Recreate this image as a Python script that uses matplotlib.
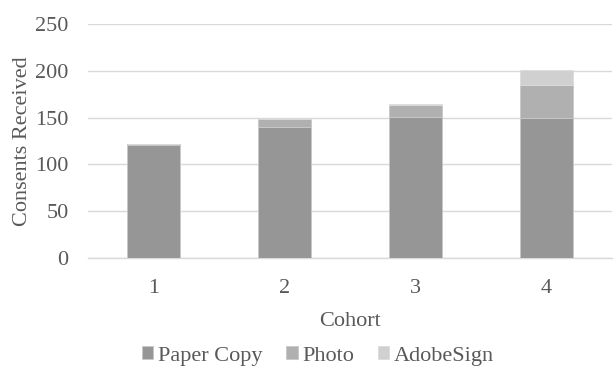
import matplotlib
matplotlib.use("Agg")
import matplotlib.pyplot as plt
import numpy as np

cohorts = ["1", "2", "3", "4"]
paper_copy = [121, 140, 151, 150]
photo = [1, 8, 12, 35]
adobe_sign = [0, 1, 1, 16]
yticks = [0, 50, 100, 150, 200, 250]

plt.rcParams['font.family'] = ['Liberation Serif', 'DejaVu Serif']
txt = '#595959'
fs = 16

fig = plt.figure(figsize=(6.14, 3.75), dpi=100)
ax = fig.add_axes([88/614, 1-258/375, 524/614, 234/375])

x = np.arange(len(cohorts))
w = 0.4
p = np.array(paper_copy, float)
ph = np.array(photo, float)
ad = np.array(adobe_sign, float)
ax.bar(x, p, w, color='#969696', edgecolor='#c8c8c8', linewidth=0.6, label='Paper Copy', zorder=3)
ax.bar(x, ph, w, bottom=p, color='#b0b0b0', edgecolor='#c8c8c8', linewidth=0.6, label='Photo', zorder=3)
ax.bar(x, ad, w, bottom=p+ph, color='#d0d0d0', edgecolor='#dcdcdc', linewidth=0.6, label='AdobeSign', zorder=3)

ax.set_xlim(-0.5, 3.5)
ax.set_ylim(0, 250)
ax.set_yticks(yticks)
ax.set_xticks(x)
ax.set_xticklabels(cohorts)
ax.grid(axis='y', color='#d9d9d9', linewidth=1, zorder=0)
for s in ['top', 'right', 'left']:
    ax.spines[s].set_visible(False)
ax.spines['bottom'].set_color('#d9d9d9')
ax.spines['bottom'].set_linewidth(1)
ax.tick_params(axis='both', length=0, labelsize=fs, colors=txt)
ax.tick_params(axis='y', pad=14)
ax.tick_params(axis='x', pad=15)
ax.set_xlabel('Cohort', fontsize=fs, color=txt, labelpad=10)
ax.set_ylabel('Consents Received', fontsize=fs, color=txt, labelpad=2)

leg = fig.legend(loc='center', bbox_to_anchor=(318/614, 1-356/375), ncol=3, frameon=False,
                 fontsize=fs, handlelength=0.5, handleheight=0.5, handletextpad=0.2, columnspacing=1.1)
for t in leg.get_texts():
    t.set_color(txt)

fig.savefig('out.png', dpi=100)
